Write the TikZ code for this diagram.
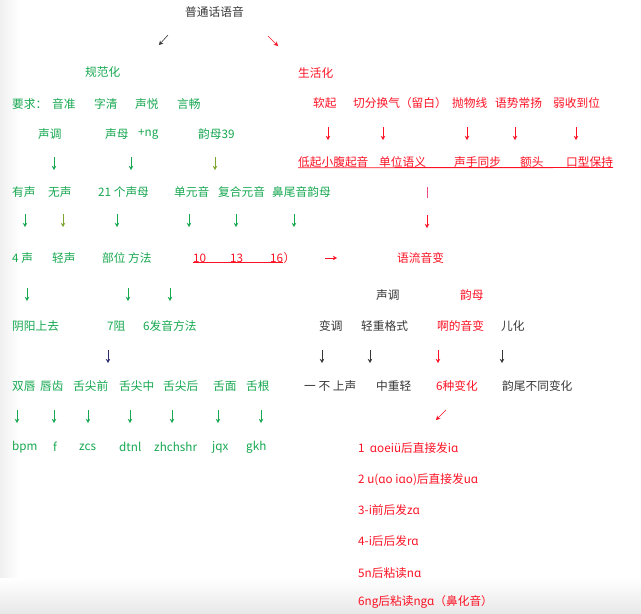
\documentclass[tikz,border=0pt]{standalone}
\usepackage{fontspec}
\setmainfont{Noto Sans CJK SC}
\usetikzlibrary{arrows.meta}
\definecolor{notegreen}{RGB}{22,168,80}
\definecolor{noteolive}{RGB}{125,165,45}
\definecolor{notered}{RGB}{252,18,36}
\definecolor{notepink}{RGB}{240,70,130}
\definecolor{notedark}{RGB}{55,55,55}
\definecolor{notenavy}{RGB}{45,45,110}

\begin{document}
\begin{tikzpicture}[x=1pt, y=-1pt,
    every node/.style={anchor=west, inner sep=0pt, font=\fontsize{11.7}{14}\selectfont},
    gtxt/.style={text=notegreen},
    rtxt/.style={text=notered},
    dtxt/.style={text=notedark},
    arrow/.style={-{Stealth[length=4.2pt,width=4.6pt]}, line width=0.6pt},
    uline/.style={notered, line width=0.8pt}
]
\fill[white] (0,0) rectangle (641,614);
\useasboundingbox (0,0) rectangle (641,614);
\shade[left color=black!6, right color=white] (0,0) rectangle (20,614);
\shade[top color=white, bottom color=black!9] (0,578) rectangle (641,614);

\node[dtxt] (root) at (185,12) {普通话语音};
\draw[arrow, notedark] (168,35) -- (159,45);
\draw[arrow, notered] (268,36) -- (278,46);

\node[gtxt] (std) at (85,72) {规范化};
\node[rtxt] (life) at (298,73) {生活化};

\node[gtxt] (req) at (12,104) {要求：};
\node[gtxt] (r1) at (52,104) {音准};
\node[gtxt] (r2) at (94,104) {字清};
\node[gtxt] (r3) at (135,104) {声悦};
\node[gtxt] (r4) at (177,104) {言畅};

\node[rtxt] (s1) at (313,103) {软起};
\node[rtxt] (s2) at (353,103) {切分换气（留白）};
\node[rtxt] (s3) at (452,103) {抛物线};
\node[rtxt] (s4) at (495,103) {语势常扬};
\node[rtxt] (s5) at (553,103) {弱收到位};
\foreach \x in {328,383,467,515,576}
    \draw[arrow, notered] (\x,127) -- (\x,140);

\node[gtxt] (tone) at (38,134) {声调};
\node[gtxt] (init) at (105,134) {声母};
\node[gtxt] (ng) at (138,134) {+ng};
\node[gtxt] (fin) at (198,134) {韵母39};
\foreach \x in {54,131}
    \draw[arrow, notegreen] (\x,157) -- (\x,170);
\draw[arrow, noteolive] (215,157) -- (215,170);

\node[rtxt] (t1) at (298,162) {低起小腹起音};
\node[rtxt] (t2) at (379,162) {单位语义};
\node[rtxt] (t3) at (454,162) {声手同步};
\node[rtxt] (t4) at (520,162) {额头};
\node[rtxt] (t5) at (566,162) {口型保持};
\draw[uline] (t1.south west) -- (t5.south east);

\node[gtxt] (voiced) at (12,192) {有声};
\node[gtxt] (unvoiced) at (48,192) {无声};
\node[gtxt] (init21) at (98,192) {21 个声母};
\node[gtxt] (mono) at (174,192) {单元音};
\node[gtxt] (comp) at (218,192) {复合元音};
\node[gtxt] (nasal) at (272,192) {鼻尾音韵母};
\draw[notepink, line width=0.8pt] (427,187) -- (427,198);

\foreach \x in {25,117,189,236,294}
    \draw[arrow, notegreen] (\x,214) -- (\x,227);
\draw[arrow, noteolive] (63,214) -- (63,227);
\draw[arrow, notered] (427,215) -- (427,228);

\node[gtxt] (four) at (12,258) {4 声};
\node[gtxt] (neutral) at (52,258) {轻声};
\node[gtxt] (place) at (102,258) {部位 方法};
\node[rtxt] (n10) at (193,258) {10};
\node[rtxt] (n13) at (230,258) {13};
\node[rtxt] (n16) at (270,258) {16};
\node[rtxt] (paren) at (n16.east) {）};
\draw[uline] (n10.south west) -- (n16.south east);
\node[rtxt] (flow) at (397,258) {语流音变};
\draw[arrow, notered] (325,258) -- (337,258);

\foreach \x in {27,128,170}
    \draw[arrow, notegreen] (\x,288) -- (\x,301);
\node[dtxt] (ftone) at (376,295) {声调};
\node[rtxt] (ffin) at (460,295) {韵母};

\node[gtxt] (four2) at (12,326) {阴阳上去};
\node[gtxt] (zu) at (107,326) {7阻};
\node[gtxt] (method) at (143,326) {6发音方法};
\node[dtxt] (bd) at (319,326) {变调};
\node[dtxt] (qz) at (361,326) {轻重格式};
\node[rtxt] (aa) at (437,326) {啊的音变};
\node[dtxt] (er) at (501,326) {儿化};

\draw[arrow, notenavy] (108,350) -- (108,363);
\foreach \x in {322,370,502}
    \draw[arrow, notedark] (\x,350) -- (\x,363);
\draw[arrow, notered] (438,350) -- (438,363);

\node[gtxt] (p1) at (12,386) {双唇};
\node[gtxt] (p2) at (40,386) {唇齿};
\node[gtxt] (p3) at (73,386) {舌尖前};
\node[gtxt] (p4) at (119,386) {舌尖中};
\node[gtxt] (p5) at (163,386) {舌尖后};
\node[gtxt] (p6) at (213,386) {舌面};
\node[gtxt] (p7) at (246,386) {舌根};
\node[dtxt] (yb) at (304,386) {一 不 上声};
\node[dtxt] (zzq) at (376,386) {中重轻};
\node[rtxt] (six) at (436,386) {6种变化};
\node[dtxt] (yw) at (502,386) {韵尾不同变化};

\foreach \x in {17,54,88,130,172,218,261}
    \draw[arrow, notegreen] (\x,410) -- (\x,423);
\draw[arrow, notered] (446,410) -- (436,420);

\node[gtxt] (c1) at (12,447) {bpm};
\node[gtxt] (c2) at (53,447) {f};
\node[gtxt] (c3) at (79,447) {zcs};
\node[gtxt] (c4) at (119,447) {dtnl};
\node[gtxt] (c5) at (154,447) {zhchshr};
\node[gtxt] (c6) at (212,447) {jqx};
\node[gtxt] (c7) at (246,447) {gkh};

\node[rtxt] (a1) at (358,448) {1\ \ ɑoeiü后直接发iɑ};
\node[rtxt] (a2) at (358,480) {2 u(ɑo iɑo)后直接发uɑ};
\node[rtxt] (a3) at (358,510) {3-i前后发zɑ};
\node[rtxt] (a4) at (358,541) {4-i后后发rɑ};
\node[rtxt] (a5) at (358,573) {5n后粘读nɑ};
\node[rtxt] (a6) at (358,602) {6ng后粘读ngɑ（鼻化音）};
\end{tikzpicture}
\end{document}
